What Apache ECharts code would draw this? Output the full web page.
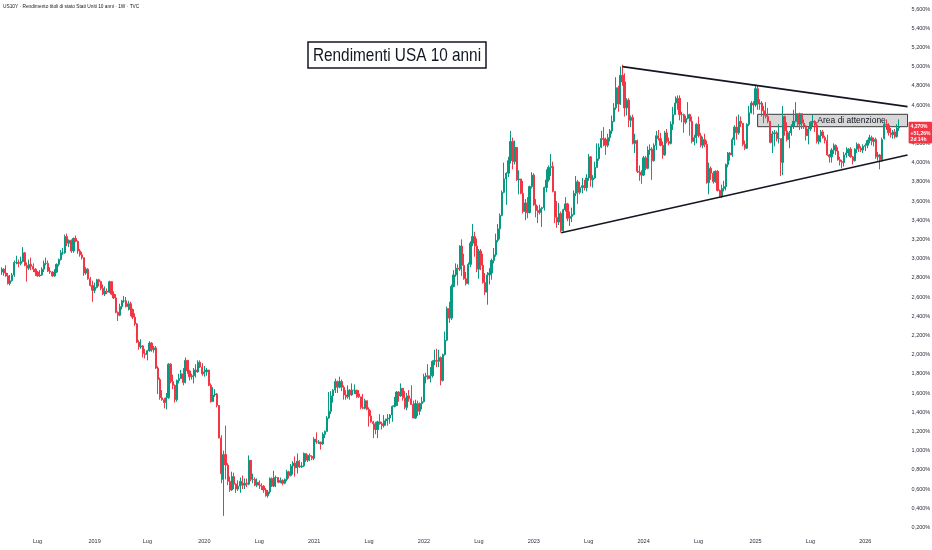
<!DOCTYPE html>
<html><head><meta charset="utf-8">
<script src="https://cdn.jsdelivr.net/npm/echarts@6/dist/echarts.min.js"></script>
<style>html,body{margin:0;padding:0;background:#fff}#c{width:932px;height:550px}</style>
</head><body><div id="c"></div>
<script>
// weekly candles [open, close, low, high]; week 0 = 2018-03-05
const ohlc2018=[[2.86,2.89,2.83,2.91],[2.89,2.85,2.82,2.90],[2.85,2.82,2.81,2.93],[2.82,2.74,2.73,2.85],[2.74,2.77,2.72,2.83],
[2.77,2.83,2.76,2.85],[2.83,2.96,2.81,2.98],[2.96,2.96,2.94,3.03],[2.96,2.95,2.91,2.99],[2.95,2.97,2.93,3.02],
[2.97,3.06,2.96,3.12],[3.06,2.93,2.92,3.07],[2.93,2.90,2.76,2.96],[2.90,2.94,2.88,2.99],[2.94,2.92,2.88,3.01],
[2.92,2.89,2.86,2.95],[2.89,2.86,2.82,2.90],[2.86,2.82,2.81,2.87],[2.82,2.83,2.81,2.88],[2.83,2.89,2.82,2.91],
[2.89,2.95,2.86,2.98],[2.95,2.95,2.93,3.01],[2.95,2.87,2.86,2.98],[2.87,2.86,2.84,2.91],[2.86,2.82,2.81,2.87],
[2.82,2.86,2.81,2.89],[2.86,2.94,2.85,2.95],[2.94,2.99,2.92,3.00],[2.99,3.06,2.98,3.09],[3.06,3.06,3.04,3.11],
[3.06,3.23,3.05,3.25],[3.23,3.16,3.13,3.26],[3.16,3.19,3.12,3.20],[3.19,3.08,3.06,3.20],[3.08,3.21,3.06,3.22],
[3.21,3.18,3.17,3.24],[3.18,3.08,3.05,3.19],[3.08,3.04,3.02,3.10],[3.04,3.01,2.99,3.07],[3.01,2.85,2.82,3.01],
[2.85,2.89,2.83,2.91],[2.89,2.79,2.78,2.90],[2.79,2.72,2.71,2.81],[2.72,2.67,2.55,2.77]];
const ohlc2019=[[2.67,2.70,2.64,2.75],[2.70,2.78,2.69,2.79],[2.78,2.76,2.71,2.79],[2.76,2.69,2.67,2.77],[2.69,2.63,2.62,2.73],
[2.63,2.66,2.61,2.71],[2.66,2.65,2.63,2.69],[2.65,2.76,2.64,2.77],[2.76,2.63,2.62,2.76],[2.63,2.59,2.58,2.66],
[2.59,2.44,2.43,2.63],[2.44,2.41,2.35,2.45],[2.41,2.50,2.40,2.53],[2.50,2.56,2.47,2.57],[2.56,2.56,2.54,2.61],
[2.56,2.50,2.49,2.60],[2.50,2.53,2.46,2.56],[2.53,2.47,2.40,2.55],[2.47,2.39,2.37,2.48],[2.39,2.32,2.30,2.43],
[2.32,2.13,2.12,2.33],[2.13,2.08,2.05,2.15],[2.08,2.09,2.06,2.16],[2.09,2.01,1.97,2.10],[2.01,2.00,1.96,2.06],
[2.00,2.04,1.94,2.05],[2.04,2.12,2.03,2.14],[2.12,2.05,2.03,2.13],[2.05,2.07,2.02,2.09],[2.07,1.86,1.85,2.09],
[1.86,1.74,1.59,1.88],[1.74,1.55,1.53,1.76],[1.55,1.53,1.52,1.63],[1.53,1.50,1.44,1.55],[1.50,1.55,1.43,1.60],
[1.55,1.90,1.54,1.91],[1.90,1.72,1.70,1.91],[1.72,1.68,1.64,1.79],[1.68,1.53,1.50,1.69],[1.53,1.73,1.51,1.74],
[1.73,1.75,1.70,1.80],[1.75,1.80,1.75,1.84],[1.80,1.71,1.68,1.86],[1.71,1.94,1.70,1.97],[1.94,1.83,1.80,1.94],
[1.83,1.77,1.73,1.84],[1.77,1.78,1.74,1.80],[1.78,1.84,1.70,1.86],[1.84,1.82,1.76,1.90],[1.82,1.92,1.81,1.94],
[1.92,1.87,1.86,1.94],[1.87,1.80,1.78,1.91]];
const ohlc2020=[[1.80,1.82,1.77,1.88],[1.82,1.84,1.78,1.86],[1.84,1.68,1.67,1.84],[1.68,1.51,1.50,1.70],[1.51,1.58,1.51,1.66],
[1.58,1.59,1.56,1.64],[1.59,1.47,1.45,1.60],[1.47,1.13,1.13,1.47],[1.13,0.76,0.66,1.16],[0.70,0.96,0.32,1.00],
[0.96,0.85,0.70,1.26],[0.85,0.68,0.64,0.87],[0.68,0.59,0.57,0.73],[0.59,0.73,0.58,0.78],[0.73,0.65,0.60,0.77],
[0.65,0.60,0.56,0.66],[0.60,0.63,0.58,0.69],[0.63,0.68,0.56,0.72],[0.68,0.64,0.60,0.74],[0.64,0.66,0.60,0.71],
[0.66,0.65,0.62,0.71],[0.65,0.90,0.64,0.95],[0.90,0.70,0.68,0.90],[0.70,0.70,0.66,0.76],[0.70,0.64,0.63,0.72],
[0.64,0.67,0.62,0.71],[0.67,0.64,0.60,0.69],[0.64,0.63,0.59,0.66],[0.63,0.59,0.56,0.64],[0.59,0.53,0.52,0.61],
[0.53,0.57,0.51,0.59],[0.57,0.71,0.55,0.72],[0.71,0.63,0.62,0.72],[0.63,0.72,0.62,0.79],[0.72,0.72,0.62,0.74],
[0.72,0.67,0.66,0.72],[0.67,0.69,0.66,0.72],[0.69,0.66,0.64,0.70],[0.66,0.70,0.65,0.71],[0.70,0.78,0.68,0.80],
[0.78,0.74,0.71,0.79],[0.74,0.84,0.73,0.86],[0.84,0.87,0.75,0.89],[0.87,0.82,0.73,0.94],[0.82,0.89,0.76,0.97],
[0.89,0.83,0.82,0.90],[0.83,0.84,0.82,0.88],[0.84,0.97,0.83,0.98],[0.97,0.90,0.88,0.97],[0.90,0.95,0.88,0.96],
[0.95,0.94,0.89,0.97],[0.94,0.92,0.90,0.95]];
const ohlc2021=[[0.92,1.12,0.90,1.14],[1.12,1.09,1.07,1.19],[1.09,1.09,1.07,1.11],[1.09,1.07,1.01,1.09],[1.07,1.17,1.06,1.19],
[1.17,1.20,1.13,1.21],[1.20,1.34,1.20,1.36],[1.34,1.41,1.33,1.61],[1.41,1.57,1.38,1.62],[1.57,1.63,1.50,1.64],
[1.63,1.72,1.60,1.75],[1.72,1.66,1.60,1.73],[1.66,1.72,1.65,1.77],[1.72,1.66,1.62,1.74],[1.66,1.58,1.53,1.68],
[1.58,1.56,1.53,1.63],[1.56,1.63,1.54,1.68],[1.63,1.58,1.53,1.64],[1.58,1.63,1.57,1.70],[1.63,1.63,1.59,1.69],
[1.63,1.59,1.55,1.63],[1.59,1.56,1.55,1.63],[1.56,1.45,1.43,1.56],[1.45,1.44,1.43,1.59],[1.44,1.52,1.43,1.54],
[1.52,1.43,1.42,1.52],[1.43,1.36,1.25,1.45],[1.36,1.30,1.29,1.42],[1.30,1.28,1.13,1.31],[1.28,1.22,1.17,1.30],
[1.22,1.30,1.13,1.31],[1.30,1.28,1.27,1.38],[1.28,1.26,1.22,1.30],[1.26,1.31,1.24,1.37],[1.31,1.33,1.26,1.33],
[1.33,1.34,1.26,1.38],[1.34,1.37,1.28,1.38],[1.37,1.46,1.30,1.47],[1.46,1.47,1.45,1.56],[1.47,1.61,1.47,1.62],
[1.61,1.57,1.51,1.62],[1.57,1.65,1.56,1.70],[1.65,1.55,1.52,1.65],[1.55,1.45,1.43,1.62],[1.45,1.57,1.42,1.60],
[1.57,1.54,1.51,1.63],[1.54,1.48,1.48,1.68],[1.48,1.34,1.34,1.52],[1.34,1.49,1.33,1.53],[1.49,1.41,1.36,1.52],
[1.41,1.49,1.37,1.50],[1.49,1.51,1.43,1.56]];
const ohlc2022=[[1.51,1.77,1.50,1.80],[1.77,1.78,1.70,1.81],[1.78,1.75,1.74,1.90],[1.75,1.78,1.71,1.87],[1.78,1.93,1.76,1.94],
[1.93,1.94,1.89,2.05],[1.94,1.93,1.87,2.06],[1.93,1.97,1.87,2.05],[1.97,1.73,1.68,1.98],[1.73,2.00,1.72,2.01],
[2.00,2.15,1.99,2.24],[2.15,2.48,2.14,2.50],[2.48,2.38,2.33,2.55],[2.38,2.71,2.36,2.73],[2.71,2.83,2.70,2.88],
[2.83,2.90,2.81,2.95],[2.90,2.89,2.72,2.94],[2.89,3.13,2.87,3.14],[3.13,2.93,2.82,3.20],[2.93,2.79,2.78,3.05],
[2.79,2.74,2.72,2.86],[2.74,2.94,2.73,2.96],[2.94,3.16,2.91,3.18],[3.16,3.23,3.13,3.36],[3.23,3.13,3.02,3.28],
[3.13,2.89,2.86,3.21],[2.89,3.08,2.79,3.10],[3.08,2.93,2.88,3.10],[2.93,2.75,2.74,3.05],[2.75,2.65,2.62,2.85],
[2.65,2.83,2.52,2.86],[2.83,2.85,2.73,2.90],[2.85,2.98,2.78,3.00],[2.98,3.04,2.95,3.11],[3.04,3.19,3.02,3.26],
[3.19,3.31,3.17,3.36],[3.31,3.45,3.20,3.47],[3.45,3.69,3.44,3.71],[3.69,3.83,3.68,4.00],[3.83,3.89,3.56,3.90],
[3.89,4.02,3.85,4.06],[4.02,4.22,3.99,4.33],[4.22,4.01,3.93,4.26],[4.01,4.16,3.98,4.23],[4.16,3.82,3.81,4.16],
[3.82,3.83,3.67,3.92],[3.83,3.68,3.67,3.82],[3.68,3.49,3.47,3.81],[3.49,3.58,3.40,3.62],[3.58,3.48,3.42,3.64],
[3.48,3.75,3.47,3.76],[3.75,3.87,3.73,3.90]];
const ohlc2023=[[3.87,3.56,3.55,3.89],[3.56,3.50,3.43,3.62],[3.50,3.48,3.37,3.55],[3.48,3.52,3.46,3.56],[3.52,3.53,3.33,3.54],
[3.53,3.74,3.50,3.75],[3.74,3.82,3.69,3.93],[3.82,3.95,3.80,3.97],[3.95,3.96,3.86,4.09],[3.96,3.70,3.69,4.01],
[3.70,3.43,3.37,3.70],[3.43,3.38,3.32,3.60],[3.38,3.47,3.35,3.58],[3.47,3.29,3.27,3.49],[3.29,3.51,3.28,3.52],
[3.51,3.57,3.49,3.64],[3.57,3.42,3.39,3.58],[3.42,3.44,3.34,3.49],[3.44,3.46,3.38,3.53],[3.46,3.68,3.45,3.71],
[3.68,3.80,3.65,3.86],[3.80,3.69,3.57,3.82],[3.69,3.74,3.67,3.80],[3.74,3.76,3.68,3.84],[3.76,3.74,3.71,3.82],
[3.74,3.84,3.70,3.88],[3.84,4.06,3.81,4.09],[4.06,3.82,3.75,4.07],[3.82,3.84,3.74,3.87],[3.84,3.95,3.83,4.01],
[3.95,4.04,3.95,4.20],[4.04,4.16,4.02,4.20],[4.16,4.25,4.15,4.33],[4.25,4.24,4.17,4.37],[4.24,4.18,4.08,4.26],
[4.18,4.26,4.16,4.30],[4.26,4.33,4.22,4.35],[4.33,4.43,4.30,4.49],[4.43,4.57,4.42,4.62],[4.57,4.78,4.55,4.89],
[4.78,4.61,4.53,4.80],[4.61,4.91,4.60,5.00],[4.91,4.84,4.80,5.02],[4.84,4.57,4.48,4.93],[4.57,4.65,4.49,4.67],
[4.65,4.44,4.37,4.67],[4.44,4.47,4.37,4.49],[4.47,4.20,4.19,4.50],[4.20,4.23,4.10,4.30],[4.23,3.91,3.89,4.24],
[3.91,3.90,3.81,3.97],[3.90,3.87,3.78,3.92]];
const ohlc2024=[[3.87,4.05,3.86,4.07],[4.05,3.94,3.92,4.07],[3.94,4.13,3.93,4.17],[4.13,4.14,4.08,4.19],[4.14,4.02,3.82,4.16],
[4.02,4.18,4.01,4.20],[4.18,4.28,4.13,4.33],[4.28,4.25,4.23,4.34],[4.25,4.18,4.17,4.31],[4.18,4.08,4.04,4.22],
[4.08,4.31,4.07,4.33],[4.31,4.22,4.20,4.35],[4.22,4.20,4.18,4.26],[4.20,4.40,4.19,4.43],[4.40,4.50,4.34,4.58],
[4.50,4.62,4.50,4.69],[4.62,4.67,4.55,4.70],[4.67,4.50,4.44,4.70],[4.50,4.50,4.42,4.53],[4.50,4.42,4.31,4.51],
[4.42,4.46,4.40,4.49],[4.46,4.50,4.45,4.63],[4.50,4.43,4.28,4.51],[4.43,4.22,4.20,4.48],[4.22,4.26,4.18,4.29],
[4.26,4.40,4.20,4.41],[4.40,4.28,4.26,4.48],[4.28,4.18,4.16,4.31],[4.18,4.24,4.15,4.27],[4.24,4.19,4.16,4.30],
[4.19,3.79,3.78,4.23],[3.79,3.94,3.67,4.00],[3.94,3.89,3.82,3.96],[3.89,3.80,3.78,3.91],[3.80,3.91,3.79,3.92],
[3.91,3.71,3.70,3.92],[3.71,3.65,3.64,3.72],[3.65,3.73,3.63,3.77],[3.73,3.75,3.70,3.81],[3.75,3.98,3.71,3.99],
[3.98,4.10,3.95,4.11],[4.10,4.08,4.02,4.11],[4.08,4.24,4.06,4.26],[4.24,4.37,4.18,4.39],[4.37,4.31,4.24,4.48],
[4.31,4.43,4.29,4.50],[4.43,4.41,4.37,4.48],[4.41,4.19,4.17,4.41],[4.19,4.15,4.13,4.23],[4.15,4.40,4.14,4.41],
[4.40,4.52,4.38,4.59],[4.52,4.62,4.51,4.64],[4.62,4.60,4.50,4.64]];
const ohlc2025=[[4.60,4.77,4.58,4.81],[4.77,4.61,4.55,4.80],[4.61,4.62,4.55,4.66],[4.62,4.54,4.48,4.64],[4.54,4.49,4.41,4.59],
[4.49,4.48,4.46,4.63],[4.48,4.43,4.41,4.57],[4.43,4.21,4.20,4.43],[4.21,4.30,4.10,4.33],[4.30,4.31,4.17,4.34],
[4.31,4.25,4.22,4.33],[4.25,4.25,4.20,4.40],[4.25,4.00,3.86,4.25],[4.00,4.48,3.87,4.59],[4.48,4.33,4.28,4.49],
[4.33,4.24,4.22,4.42],[4.24,4.31,4.15,4.33],[4.31,4.38,4.28,4.40],[4.38,4.43,4.35,4.55],[4.43,4.51,4.42,4.63],
[4.51,4.40,4.38,4.51],[4.40,4.51,4.34,4.52],[4.51,4.41,4.35,4.51],[4.41,4.38,4.35,4.45],[4.38,4.28,4.23,4.39],
[4.28,4.35,4.19,4.37],[4.35,4.42,4.33,4.43],[4.42,4.43,4.38,4.50],[4.43,4.39,4.32,4.44],[4.39,4.22,4.20,4.42],
[4.22,4.28,4.19,4.29],[4.28,4.32,4.21,4.34],[4.32,4.26,4.25,4.34],[4.26,4.23,4.20,4.28],[4.23,4.08,4.07,4.29],
[4.08,4.06,4.00,4.09],[4.06,4.13,4.00,4.15],[4.13,4.18,4.09,4.20],[4.18,4.12,4.08,4.19],[4.12,4.03,4.02,4.16],
[4.03,4.01,3.97,4.06],[4.01,4.00,3.94,4.03],[4.00,4.08,3.96,4.11],[4.08,4.10,4.05,4.16],[4.10,4.14,4.07,4.15],
[4.14,4.06,4.05,4.16],[4.06,4.02,3.98,4.07],[4.02,4.14,4.01,4.15],[4.14,4.19,4.10,4.21],[4.19,4.15,4.11,4.20],
[4.15,4.13,4.11,4.17],[4.13,4.17,4.10,4.19]];
const ohlc2026=[[4.17,4.18,4.12,4.20],[4.18,4.23,4.15,4.24],[4.23,4.26,4.20,4.29],[4.26,4.22,4.18,4.28],[4.22,4.24,4.17,4.26],
[4.24,4.06,4.04,4.26],[4.06,4.08,4.02,4.11],[4.08,4.03,3.93,4.09],[4.03,4.24,4.01,4.26],[4.25,4.40,4.24,4.43],
[4.40,4.39,4.34,4.45],[4.39,4.31,4.28,4.41],[4.31,4.29,4.26,4.36],[4.29,4.32,4.25,4.34],[4.32,4.27,4.25,4.35],
[4.27,4.36,4.26,4.40],[4.36,4.37,4.33,4.45]];

// axis / annotation definitions
const firstWeek = [2018, 2, 5];   // Monday of week 0 (UTC y, m0, d)
const weekSlots = 430;            // category slots on the time axis
const julyLabel = 'Lug';
const yMin = 0, yMax = 5.8, yStep = 0.2;
const upperTrend = [[294, 5.00], [429, 4.583]];
const lowerTrend = [[265, 3.27], [429, 4.079]];
const attentionName = 'Area di attenzione';
const attentionBox = [[358, 4.503], [429, 4.374]];
const headerText = 'US10Y · Rendimento titoli di stato Stati Uniti 10 anni · 1W · TVC';
const titleText = 'Rendimenti USA 10 anni';
const tagLines = ['+51,26%', '2d 14h'];

const UP = '#089981', DOWN = '#F23645', INK = '#131722';
const FONT = '"Liberation Sans", Arial, sans-serif';

const raw = [].concat(ohlc2018, ohlc2019, ohlc2020, ohlc2021, ohlc2022, ohlc2023, ohlc2024, ohlc2025, ohlc2026);
const candles = raw.map(([o, c, l, h]) => [o, c, Math.min(l, o, c), Math.max(h, o, c)]);

const cats = [];
const t0 = Date.UTC(firstWeek[0], firstWeek[1], firstWeek[2]);
for (let i = 0; i < weekSlots; i++) cats.push(new Date(t0 + i * 7 * 864e5).toISOString().slice(0, 10));

const pct = v => v.toFixed(3).replace('.', ',') + '%';

const chart = echarts.init(document.getElementById('c'), null, {renderer: 'canvas'});
chart.setOption({
  animation: false,
  backgroundColor: '#ffffff',
  grid: {left: 0.6, top: -10.2, width: 908, height: 556.8, containLabel: false, outerBoundsMode: 'none'},
  xAxis: {
    type: 'category', data: cats, boundaryGap: true,
    axisLine: {show: false}, axisTick: {show: false}, splitLine: {show: false},
    axisLabel: {
      inside: true, margin: 2, fontSize: 5.5, color: '#2a2e39', fontFamily: FONT,
      interval: (idx, val) => { const m = +val.slice(5, 7), d = +val.slice(8, 10); return (m === 1 || m === 7) && d <= 7; },
      formatter: val => (+val.slice(5, 7) === 1 ? val.slice(0, 4) : julyLabel)
    }
  },
  yAxis: {
    type: 'value', position: 'right', min: yMin, max: yMax, interval: yStep, scale: false,
    axisLine: {show: false}, axisTick: {show: false}, splitLine: {show: false},
    axisLabel: {margin: 3, fontSize: 5.5, color: '#2a2e39', fontFamily: FONT, showMinLabel: false, showMaxLabel: false, formatter: pct}
  },
  series: [{
    type: 'candlestick',
    data: candles,
    barWidth: '80%',
    itemStyle: {color: UP, color0: DOWN, borderColor: UP, borderColor0: DOWN, borderWidth: 1},
    markLine: {
      silent: true, symbol: ['none', 'none'], label: {show: false},
      lineStyle: {color: INK, width: 1.6, type: 'solid'},
      emphasis: {disabled: true},
      data: [
        [{coord: [cats[upperTrend[0][0]], upperTrend[0][1]]}, {coord: [cats[upperTrend[1][0]], upperTrend[1][1]]}],
        [{coord: [cats[lowerTrend[0][0]], lowerTrend[0][1]]}, {coord: [cats[lowerTrend[1][0]], lowerTrend[1][1]]}]
      ]
    },
    markArea: {
      silent: true,
      itemStyle: {color: 'rgba(130,130,130,0.32)', borderColor: '#3a3a3a', borderWidth: 1},
      label: {show: true, position: 'inside', offset: [19, 0], color: INK, fontSize: 8.5, fontFamily: FONT},
      data: [[{name: attentionName, coord: [cats[attentionBox[0][0]], attentionBox[0][1]]},
              {coord: [cats[attentionBox[1][0]], attentionBox[1][1]]}]]
    }
  }]
});

const lastIdx = candles.length - 1;
const lastClose = candles[lastIdx][1];
const p = chart.convertToPixel({gridIndex: 0}, [cats[lastIdx], lastClose]);
const tagX = 0.6 + 908, tagY = p[1] - 5.3;
const tagText = (t, dy) => ({type: 'text', x: tagX + 2, y: tagY + dy, z: 101,
  style: {text: t, fill: '#fff', font: 'bold 5px ' + FONT, fontSize: 5, fontWeight: 'bold', fontFamily: FONT,
          align: 'left', textAlign: 'left', verticalAlign: 'middle', textVerticalAlign: 'middle'}});

chart.setOption({
  graphic: [
    {type: 'text', x: 3, y: 7, z: 100,
     style: {text: headerText, fill: INK, font: '4.8px ' + FONT, fontSize: 4.8, fontFamily: FONT,
             verticalAlign: 'middle', textVerticalAlign: 'middle'}},
    {type: 'group', x: 397, y: 55, z: 100, children: [
      {type: 'rect', shape: {x: -89, y: -13, width: 178, height: 26},
       style: {fill: '#ffffff', stroke: INK, lineWidth: 1.5}},
      {type: 'text', x: 0, y: 0.5, scaleX: 0.83,
       style: {text: titleText, x: 0, y: 0, fill: INK, font: '18.5px ' + FONT, fontSize: 18.5, fontFamily: FONT,
               align: 'center', textAlign: 'center', verticalAlign: 'middle', textVerticalAlign: 'middle'}}
    ]},
    {type: 'rect', z: 100, shape: {x: tagX, y: tagY, width: 932 - tagX, height: 21.6, r: 1},
     style: {fill: DOWN}},
    tagText(pct(lastClose), 5.3),
    tagText(tagLines[0], 12),
    tagText(tagLines[1], 18)
  ]
});
</script>
</body></html>
